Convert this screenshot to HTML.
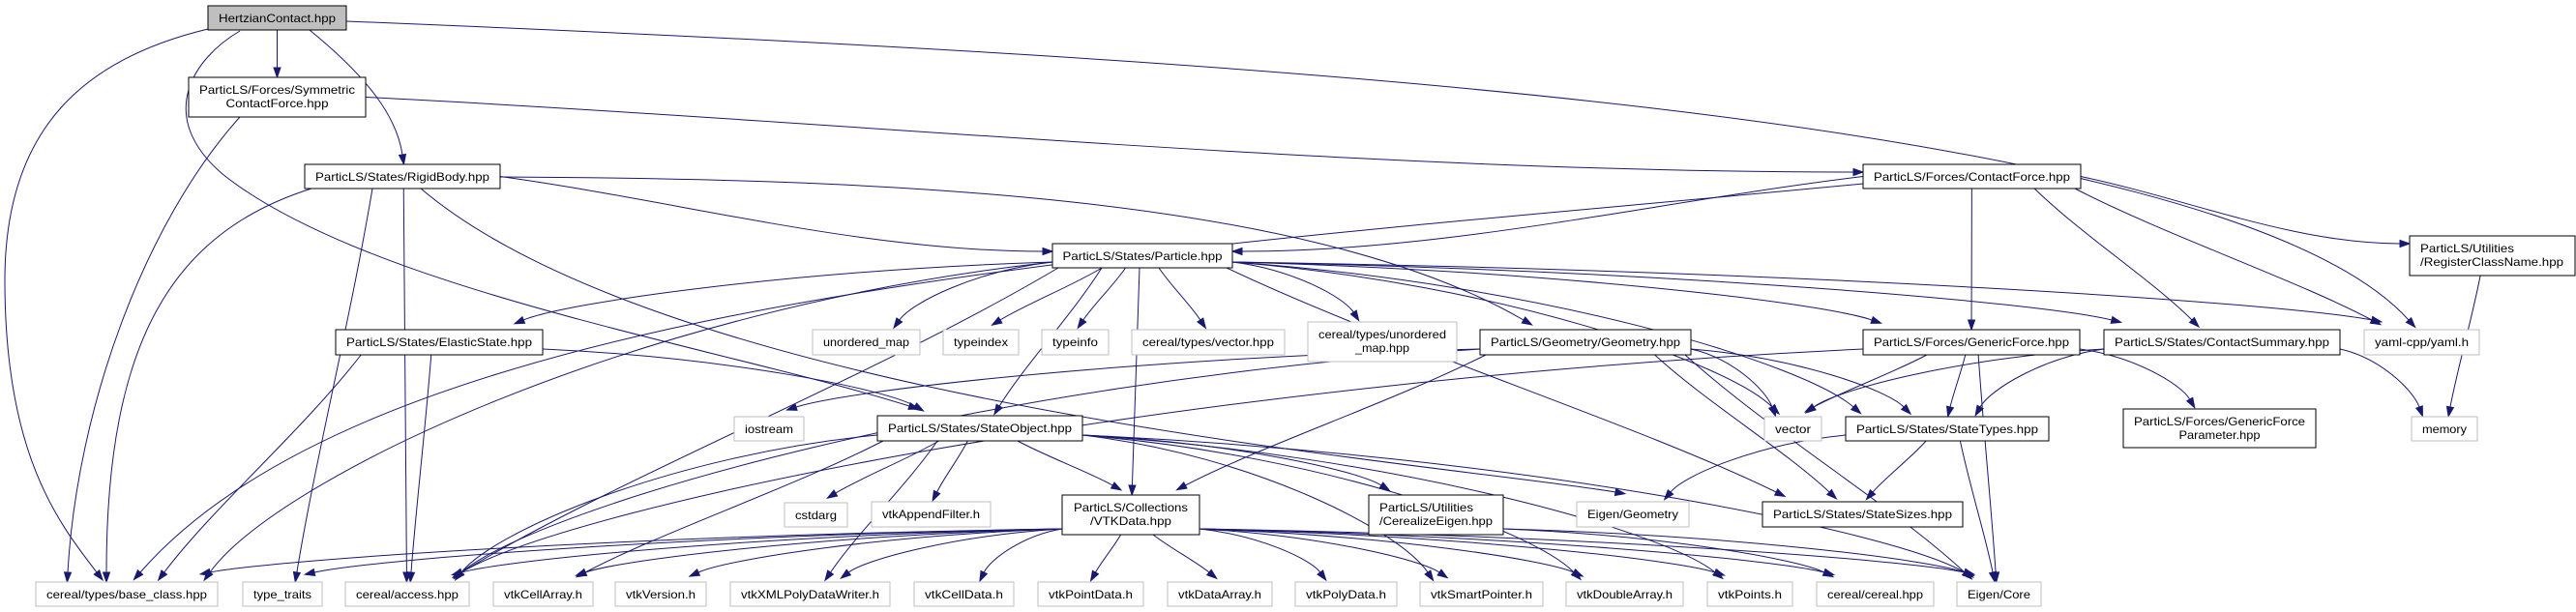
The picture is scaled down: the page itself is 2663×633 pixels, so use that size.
<!DOCTYPE html>
<html><head><meta charset="utf-8"><style>
html,body{margin:0;padding:0;background:#fff;width:2663px;height:633px;overflow:hidden}
svg{display:block}
text{font-family:"Liberation Sans",Arial,sans-serif;font-size:12px;fill:#000}
</style></head><body>
<svg id="g" width="2663" height="633" viewBox="0 0 2663 633" xmlns="http://www.w3.org/2000/svg">
<g id="edges" fill="none" stroke="#191970" stroke-width="1"></g>
<g id="arrows" fill="#191970" stroke="#191970"></g>
<g id="nodes">
<rect x="215" y="6" width="143" height="25" fill="#bfbfbf" stroke="#000"/><text x="286.5" y="23" text-anchor="middle" textLength="121" lengthAdjust="spacingAndGlyphs">HertzianContact.hpp</text>
<rect x="195" y="80" width="183" height="41" fill="#fff" stroke="#000"/><text x="286.5" y="97" text-anchor="middle" textLength="161" lengthAdjust="spacingAndGlyphs">ParticLS/Forces/Symmetric</text><text x="286.5" y="111" text-anchor="middle" textLength="106" lengthAdjust="spacingAndGlyphs">ContactForce.hpp</text>
<rect x="315" y="170" width="202" height="25" fill="#fff" stroke="#000"/><text x="416" y="187" text-anchor="middle" textLength="180" lengthAdjust="spacingAndGlyphs">ParticLS/States/RigidBody.hpp</text>
<rect x="1926" y="170" width="225" height="25" fill="#fff" stroke="#000"/><text x="2038.5" y="187" text-anchor="middle" textLength="203" lengthAdjust="spacingAndGlyphs">ParticLS/Forces/ContactForce.hpp</text>
<rect x="2491" y="244" width="171" height="41" fill="#fff" stroke="#000"/><text x="2502" y="261" textLength="97" lengthAdjust="spacingAndGlyphs">ParticLS/Utilities</text><text x="2502" y="275" textLength="148" lengthAdjust="spacingAndGlyphs">/RegisterClassName.hpp</text>
<rect x="1088" y="252" width="186" height="25" fill="#fff" stroke="#000"/><text x="1181" y="269" text-anchor="middle" textLength="165" lengthAdjust="spacingAndGlyphs">ParticLS/States/Particle.hpp</text>
<rect x="347" y="341" width="214" height="26" fill="#fff" stroke="#000"/><text x="454" y="358" text-anchor="middle" textLength="192" lengthAdjust="spacingAndGlyphs">ParticLS/States/ElasticState.hpp</text>
<rect x="840" y="341" width="111" height="26" fill="#fff" stroke="#bfbfbf"/><text x="895.5" y="358" text-anchor="middle" textLength="89" lengthAdjust="spacingAndGlyphs">unordered_map</text>
<rect x="975" y="341" width="78" height="26" fill="#fff" stroke="#bfbfbf"/><text x="1014" y="358" text-anchor="middle" textLength="56" lengthAdjust="spacingAndGlyphs">typeindex</text>
<rect x="1077" y="341" width="69" height="26" fill="#fff" stroke="#bfbfbf"/><text x="1111.5" y="358" text-anchor="middle" textLength="47" lengthAdjust="spacingAndGlyphs">typeinfo</text>
<rect x="1170" y="341" width="158" height="26" fill="#fff" stroke="#bfbfbf"/><text x="1249" y="358" text-anchor="middle" textLength="136" lengthAdjust="spacingAndGlyphs">cereal/types/vector.hpp</text>
<rect x="1352" y="333" width="154" height="41" fill="#fff" stroke="#bfbfbf"/><text x="1429" y="350" text-anchor="middle" textLength="132" lengthAdjust="spacingAndGlyphs">cereal/types/unordered</text><text x="1429" y="364" text-anchor="middle" textLength="56" lengthAdjust="spacingAndGlyphs">_map.hpp</text>
<rect x="1530" y="341" width="218" height="26" fill="#fff" stroke="#000"/><text x="1639" y="358" text-anchor="middle" textLength="196" lengthAdjust="spacingAndGlyphs">ParticLS/Geometry/Geometry.hpp</text>
<rect x="1926" y="341" width="224" height="26" fill="#fff" stroke="#000"/><text x="2038" y="358" text-anchor="middle" textLength="202" lengthAdjust="spacingAndGlyphs">ParticLS/Forces/GenericForce.hpp</text>
<rect x="2175" y="341" width="244" height="26" fill="#fff" stroke="#000"/><text x="2297" y="358" text-anchor="middle" textLength="222" lengthAdjust="spacingAndGlyphs">ParticLS/States/ContactSummary.hpp</text>
<rect x="2444" y="341" width="119" height="26" fill="#fff" stroke="#bfbfbf"/><text x="2503.5" y="358" text-anchor="middle" textLength="97" lengthAdjust="spacingAndGlyphs">yaml-cpp/yaml.h</text>
<rect x="759" y="431" width="72" height="25" fill="#fff" stroke="#bfbfbf"/><text x="795" y="448" text-anchor="middle" textLength="50" lengthAdjust="spacingAndGlyphs">iostream</text>
<rect x="907" y="430" width="212" height="26" fill="#fff" stroke="#000"/><text x="1013" y="447" text-anchor="middle" textLength="190" lengthAdjust="spacingAndGlyphs">ParticLS/States/StateObject.hpp</text>
<rect x="1824" y="431" width="59" height="25" fill="#fff" stroke="#bfbfbf"/><text x="1853.5" y="448" text-anchor="middle" textLength="37" lengthAdjust="spacingAndGlyphs">vector</text>
<rect x="1908" y="431" width="210" height="25" fill="#fff" stroke="#000"/><text x="2013" y="448" text-anchor="middle" textLength="188" lengthAdjust="spacingAndGlyphs">ParticLS/States/StateTypes.hpp</text>
<rect x="2195" y="423" width="199" height="40" fill="#fff" stroke="#000"/><text x="2294.5" y="440" text-anchor="middle" textLength="177" lengthAdjust="spacingAndGlyphs">ParticLS/Forces/GenericForce</text><text x="2294.5" y="454" text-anchor="middle" textLength="84" lengthAdjust="spacingAndGlyphs">Parameter.hpp</text>
<rect x="2493" y="431" width="68" height="25" fill="#fff" stroke="#bfbfbf"/><text x="2527" y="448" text-anchor="middle" textLength="46" lengthAdjust="spacingAndGlyphs">memory</text>
<rect x="811" y="520" width="65" height="25" fill="#fff" stroke="#bfbfbf"/><text x="843.5" y="537" text-anchor="middle" textLength="43" lengthAdjust="spacingAndGlyphs">cstdarg</text>
<rect x="901" y="519" width="123" height="26" fill="#fff" stroke="#bfbfbf"/><text x="962.5" y="536" text-anchor="middle" textLength="101" lengthAdjust="spacingAndGlyphs">vtkAppendFilter.h</text>
<rect x="1098" y="512" width="142" height="41" fill="#fff" stroke="#000"/><text x="1169" y="529" text-anchor="middle" textLength="118" lengthAdjust="spacingAndGlyphs">ParticLS/Collections</text><text x="1169" y="543" text-anchor="middle" textLength="84" lengthAdjust="spacingAndGlyphs">/VTKData.hpp</text>
<rect x="1415" y="512" width="139" height="41" fill="#fff" stroke="#000"/><text x="1426" y="529" textLength="97" lengthAdjust="spacingAndGlyphs">ParticLS/Utilities</text><text x="1426" y="543" textLength="117" lengthAdjust="spacingAndGlyphs">/CerealizeEigen.hpp</text>
<rect x="1630" y="519" width="116" height="26" fill="#fff" stroke="#bfbfbf"/><text x="1688" y="536" text-anchor="middle" textLength="94" lengthAdjust="spacingAndGlyphs">Eigen/Geometry</text>
<rect x="1822" y="519" width="207" height="26" fill="#fff" stroke="#000"/><text x="1925.5" y="536" text-anchor="middle" textLength="185" lengthAdjust="spacingAndGlyphs">ParticLS/States/StateSizes.hpp</text>
<g fill="#fff" stroke="#bfbfbf">
<rect x="37" y="602" width="188" height="25"/><rect x="251" y="602" width="82" height="25"/><rect x="357" y="602" width="128" height="25"/><rect x="510" y="602" width="103" height="25"/><rect x="636" y="602" width="94" height="25"/><rect x="755" y="602" width="165" height="25"/><rect x="945" y="602" width="103" height="25"/><rect x="1073" y="602" width="109" height="25"/><rect x="1207" y="602" width="108" height="25"/><rect x="1339" y="602" width="105" height="25"/><rect x="1468" y="602" width="127" height="25"/><rect x="1619" y="602" width="121" height="25"/><rect x="1765" y="602" width="88" height="25"/><rect x="1878" y="602" width="121" height="25"/><rect x="2023" y="602" width="87" height="25"/>
</g>
<g text-anchor="middle">
<text x="131" y="619" textLength="166" lengthAdjust="spacingAndGlyphs">cereal/types/base_class.hpp</text>
<text x="292" y="619" textLength="60" lengthAdjust="spacingAndGlyphs">type_traits</text>
<text x="421" y="619" textLength="106" lengthAdjust="spacingAndGlyphs">cereal/access.hpp</text>
<text x="561.5" y="619" textLength="81" lengthAdjust="spacingAndGlyphs">vtkCellArray.h</text>
<text x="683" y="619" textLength="72" lengthAdjust="spacingAndGlyphs">vtkVersion.h</text>
<text x="837.5" y="619" textLength="143" lengthAdjust="spacingAndGlyphs">vtkXMLPolyDataWriter.h</text>
<text x="996.5" y="619" textLength="81" lengthAdjust="spacingAndGlyphs">vtkCellData.h</text>
<text x="1127.5" y="619" textLength="87" lengthAdjust="spacingAndGlyphs">vtkPointData.h</text>
<text x="1261" y="619" textLength="86" lengthAdjust="spacingAndGlyphs">vtkDataArray.h</text>
<text x="1391.5" y="619" textLength="83" lengthAdjust="spacingAndGlyphs">vtkPolyData.h</text>
<text x="1531.5" y="619" textLength="105" lengthAdjust="spacingAndGlyphs">vtkSmartPointer.h</text>
<text x="1679.5" y="619" textLength="99" lengthAdjust="spacingAndGlyphs">vtkDoubleArray.h</text>
<text x="1809" y="619" textLength="66" lengthAdjust="spacingAndGlyphs">vtkPoints.h</text>
<text x="1938.5" y="619" textLength="99" lengthAdjust="spacingAndGlyphs">cereal/cereal.hpp</text>
<text x="2066.5" y="619" textLength="65" lengthAdjust="spacingAndGlyphs">Eigen/Core</text>
</g>
</g>
</svg>
<script>
var N={H:[215,6,358,31],SY:[195,80,378,121],RB:[315,170,517,195],CF:[1926,170,2151,195],RC:[2491,244,2662,285],PA:[1088,252,1274,277],ES:[347,341,561,367],UM:[840,341,951,367],TI:[975,341,1053,367],TF:[1077,341,1146,367],CV:[1170,341,1328,367],CU:[1352,333,1506,374],GE:[1530,341,1748,367],GF:[1926,341,2150,367],CS:[2175,341,2419,367],YA:[2444,341,2563,367],IO:[759,431,831,456],SO:[907,430,1119,456],VE:[1824,431,1883,456],ST:[1908,431,2118,456],GP:[2195,423,2394,463],ME:[2493,431,2561,456],CD:[811,520,876,545],AF:[901,519,1024,545],VT:[1098,512,1240,553],CE:[1415,512,1554,553],EG:[1630,519,1746,545],SS:[1822,519,2029,545],BC:[37,602,225,627],TT:[251,602,333,627],AC:[357,602,485,627],CA:[510,602,613,627],VV:[636,602,730,627],XW:[755,602,920,627],CDt:[945,602,1048,627],PD:[1073,602,1182,627],DA:[1207,602,1315,627],PY:[1339,602,1444,627],SP:[1468,602,1595,627],DB:[1619,602,1740,627],PT:[1765,602,1853,627],CC:[1878,602,1999,627],EC:[2023,602,2110,627]};
var E=[["H","BC","M215,30 C90,60 5,130 5,290 C5,470 60,540 100,592"],["H","SY"],["H","RB","M320,31 C380,80 410,120 416,160"],["H","SO","M248,32 C200,60 160,120 230,180 C380,300 750,360 940,420"],["H","YA","M358,22 C1300,60 2300,120 2490,331"],["SY","BC","M248,121 C150,230 80,420 70,592"],["SY","CF","s"],
["RB","BC","M322,195 C180,240 110,350 110,592"],["RB","TT"],["RB","AC"],["RB","PA","s"],["RB","GE","M517,183 C900,185 1350,200 1575,331"],["RB","EG","M435,195 C700,420 1500,480 1670,509"],
["CF","PA","s"],["CF","BC","M1926,190 C1200,260 400,300 145,592"],["CF","GF"],["CF","CS"],["CF","YA"],["CF","RC","s"],["RC","ME"],
["PA","BC"],["PA","AC"],["PA","ES"],["PA","SO"],["PA","VT"],["PA","UM"],["PA","TI"],["PA","TF"],["PA","CV"],["PA","CU"],["PA","GF"],["PA","CS"],["PA","ST"],["PA","SS"],["PA","VE"],["PA","YA"],
["ES","BC"],["ES","AC"],["ES","SO"],
["GE","IO"],["GE","AC"],["GE","VT"],["GE","VE"],["GE","ST"],["GE","SS"],["GE","EC"],
["GF","VE"],["GF","ST"],["GF","GP"],["GF","EC"],["GF","AC"],
["CS","VE"],["CS","ST"],["CS","ME"],
["ST","EG"],["ST","SS"],["ST","EC"],
["SO","CD"],["SO","AF"],["SO","VT"],["SO","CE"],["SO","SP"],["SO","DB"],["SO","PT"],["SO","AC"],["SO","XW"],["SO","EC"],["SO","CA"],
["VT","BC"],["VT","TT"],["VT","AC"],["VT","CA"],["VT","VV"],["VT","XW"],["VT","CDt"],["VT","PD"],["VT","DA"],["VT","PY"],["VT","SP"],["VT","DB"],["VT","PT"],["VT","CC"],["VT","EC"],
["CE","CC"],["CE","EC"]];
var eg=document.getElementById('edges'),ag=document.getElementById('arrows'),ns="http://www.w3.org/2000/svg";
function el(t,a,p){var e=document.createElementNS(ns,t);for(var k in a)e.setAttribute(k,a[k]);p.appendChild(e);}
function arrow(tx,ty,dx,dy){var l=Math.sqrt(dx*dx+dy*dy)||1;dx/=l;dy/=l;var hx=tx+dx*10,hy=ty+dy*10,px=-dy*3.5,py=dx*3.5;
el('polygon',{points:(tx+px)+","+(ty+py)+" "+hx+","+hy+" "+(tx-px)+","+(ty-py)},ag);}
E.forEach(function(e){var s=N[e[0]],t=N[e[1]];var scx=(s[0]+s[2])/2,tcx=(t[0]+t[2])/2;
if(e[2]&&e[2]!="s"){var d=e[2];el('path',{d:d},eg);var nums=d.match(/-?[\d.]+/g).map(Number);var n=nums.length;
 var tx=nums[n-2],ty=nums[n-1],cx=nums[n-4],cy=nums[n-3];arrow(tx,ty,tx-cx,ty-cy);return;}
var sx,sy,tx,ty,c1x,c1y,c2x,c2y;
if(e[2]=="s"){ if(tcx>scx){sx=s[2];tx=t[0]-10;}else{sx=s[0];tx=t[2]+10;}
 sy=(s[1]+s[3])/2;ty=t[1]+8;c1x=sx+(tx-sx)/3;c1y=sy+(ty-sy)/3;c2x=sx+2*(tx-sx)/3;c2y=ty;
 el('path',{d:"M"+sx+","+sy+" C"+c1x+","+c1y+" "+c2x+","+c2y+" "+tx+","+ty},eg);
 arrow(tx,ty,tx-c2x,ty-c2y);return;}
var hw=(s[2]-s[0])/2-6;var off=(tcx-scx)*0.25;off=Math.max(-hw,Math.min(hw,off));sx=scx+off;sy=s[3];
var thw=(t[2]-t[0])/2-8;var toff=(scx-tcx)*0.12;toff=Math.max(-thw,Math.min(thw,toff));tx=tcx+toff;ty=t[1]-10;
var dyy=ty-sy;
if(Math.abs(tx-sx)>2.5*dyy){ if(tx>sx){sx=s[2];}else{sx=s[0];} sy=s[3]-6; dyy=ty-sy;
 c1x=sx+(tx-sx)*0.5;c1y=sy+dyy*0.15;c2x=tx-(tx-sx)*0.08;c2y=ty-dyy*0.3;}
else{c1x=sx+(tx-sx)*0.3;c1y=sy+dyy*0.35;c2x=sx+(tx-sx)*0.75;c2y=sy+dyy*0.7;}
el('path',{d:"M"+sx+","+sy+" C"+c1x+","+c1y+" "+c2x+","+c2y+" "+tx+","+ty},eg);
arrow(tx,ty,tx-c2x,ty-c2y);});
</script>
</body></html>
